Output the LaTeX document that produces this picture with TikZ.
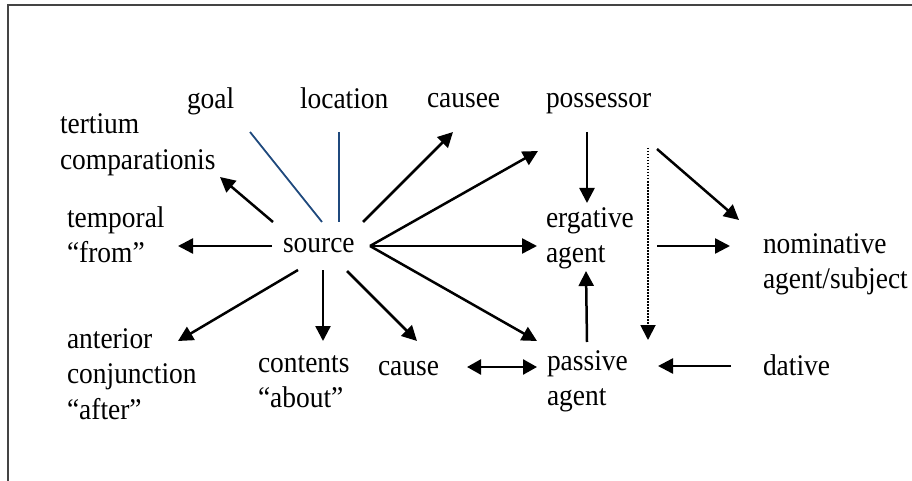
\documentclass[tikz,border=0pt]{standalone}
\usepackage{fontspec}
\setmainfont{Liberation Serif}[FakeStretch=0.915]
\usetikzlibrary{arrows.meta}
\definecolor{framegray}{HTML}{444444}
\definecolor{linkblue}{HTML}{1F497D}
\begin{document}
\begin{tikzpicture}[x=1pt,y=-1pt,
  lbl/.style={inner sep=0pt,outer sep=0pt,anchor=base west,text width=200pt,align=left,
    font=\fontsize{30}{35.5}\selectfont},
  arr/.style={line width=2.5pt,-{Triangle[length=15pt,width=15pt]}},
  darr/.style={line width=2.5pt,{Triangle[length=14pt,width=15pt]}-{Triangle[length=14pt,width=15pt]}},
  plain/.style={line width=1.8pt,draw=linkblue},
  dotarr/.style={line width=1.9pt,dash pattern=on 1.5pt off 1.5pt,-{Triangle[length=15pt,width=15pt]}},
  frame/.style={line width=1.5pt,draw=framegray}]
\useasboundingbox (0,0) rectangle (912,481);
\coordinate (fc) at (8,5);
\coordinate (fr) at (912,5);
\coordinate (fb) at (8,481);
\draw[frame] (fr) -- (fc) -- (fb);

\node[lbl] (goal) at (187,109) {goal};
\node[lbl] (location) at (300,109) {location};
\node[lbl] (causee) at (427,108) {causee};
\node[lbl] (possessor) at (546,108) {possessor};
\node[lbl] (tertium) at (60,134) {tertium\\comparationis};
\node[lbl] (temporal) at (67,227) {temporal\\“from”};
\node[lbl] (source) at (283,252) {source};
\node[lbl] (ergative) at (546,227) {ergative\\agent};
\node[lbl] (nominative) at (763,253) {nominative\\agent/subject};
\node[lbl] (anterior) at (67,348) {anterior\\conjunction\\“after”};
\node[lbl] (contents) at (258,372) {contents\\“about”};
\node[lbl] (cause) at (378,375) {cause};
\node[lbl] (passive) at (547,370) {passive\\agent};
\node[lbl] (dative) at (763,375) {dative};

% blue lines
\draw[plain] ([shift={(63,23)}]goal.base west) -- ([shift={(39,-30)}]source.base west);
\draw[plain] ([shift={(39,23)}]location.base west) -- ([shift={(56,-30)}]source.base west);

% arrows from source
\draw[arr] ([shift={(-10,-30)}]source.base west) -- ([shift={(160,43)}]tertium.base west);
\draw[arr] ([shift={(80,-30)}]source.base west) -- ([shift={(26,24)}]causee.base west);
\draw[arr] ([shift={(87,-6)}]source.base west) -- ([shift={(-8,43)}]possessor.base west);
\draw[arr] ([shift={(87,-6)}]source.base west) -- ([shift={(-9,19)}]ergative.base west);
\draw[arr] ([shift={(87,-6)}]source.base west) -- ([shift={(-10,-29)}]passive.base west);
\draw[arr] ([shift={(64,19)}]source.base west) -- ([shift={(39,-34)}]cause.base west);
\draw[arr] ([shift={(40,18)}]source.base west) -- ([shift={(65,-31)}]contents.base west);
\draw[arr] ([shift={(15,18)}]source.base west) -- ([shift={(111,-7)}]anterior.base west);
\draw[arr] ([shift={(-11,-6)}]source.base west) -- ([shift={(111,19)}]temporal.base west);

% right part
\draw[arr] ([shift={(41,24)}]possessor.base west) -- ([shift={(41,-24)}]ergative.base west);
\draw[arr] ([shift={(40,-28)}]passive.base west) -- ([shift={(40,44)}]ergative.base west);
\draw[dotarr] ([shift={(102,40)}]possessor.base west) -- ([shift={(101,-30)}]passive.base west);
\draw[arr] ([shift={(111,41)}]possessor.base west) -- ([shift={(-24,-33)}]nominative.base west);
\draw[arr] ([shift={(111,19)}]ergative.base west) -- ([shift={(-33,-7)}]nominative.base west);
\draw[darr] ([shift={(89,-8)}]cause.base west) -- ([shift={(-10,-3)}]passive.base west);
\draw[arr] ([shift={(-32,-9)}]dative.base west) -- ([shift={(111,-4)}]passive.base west);
\end{tikzpicture}
\end{document}
